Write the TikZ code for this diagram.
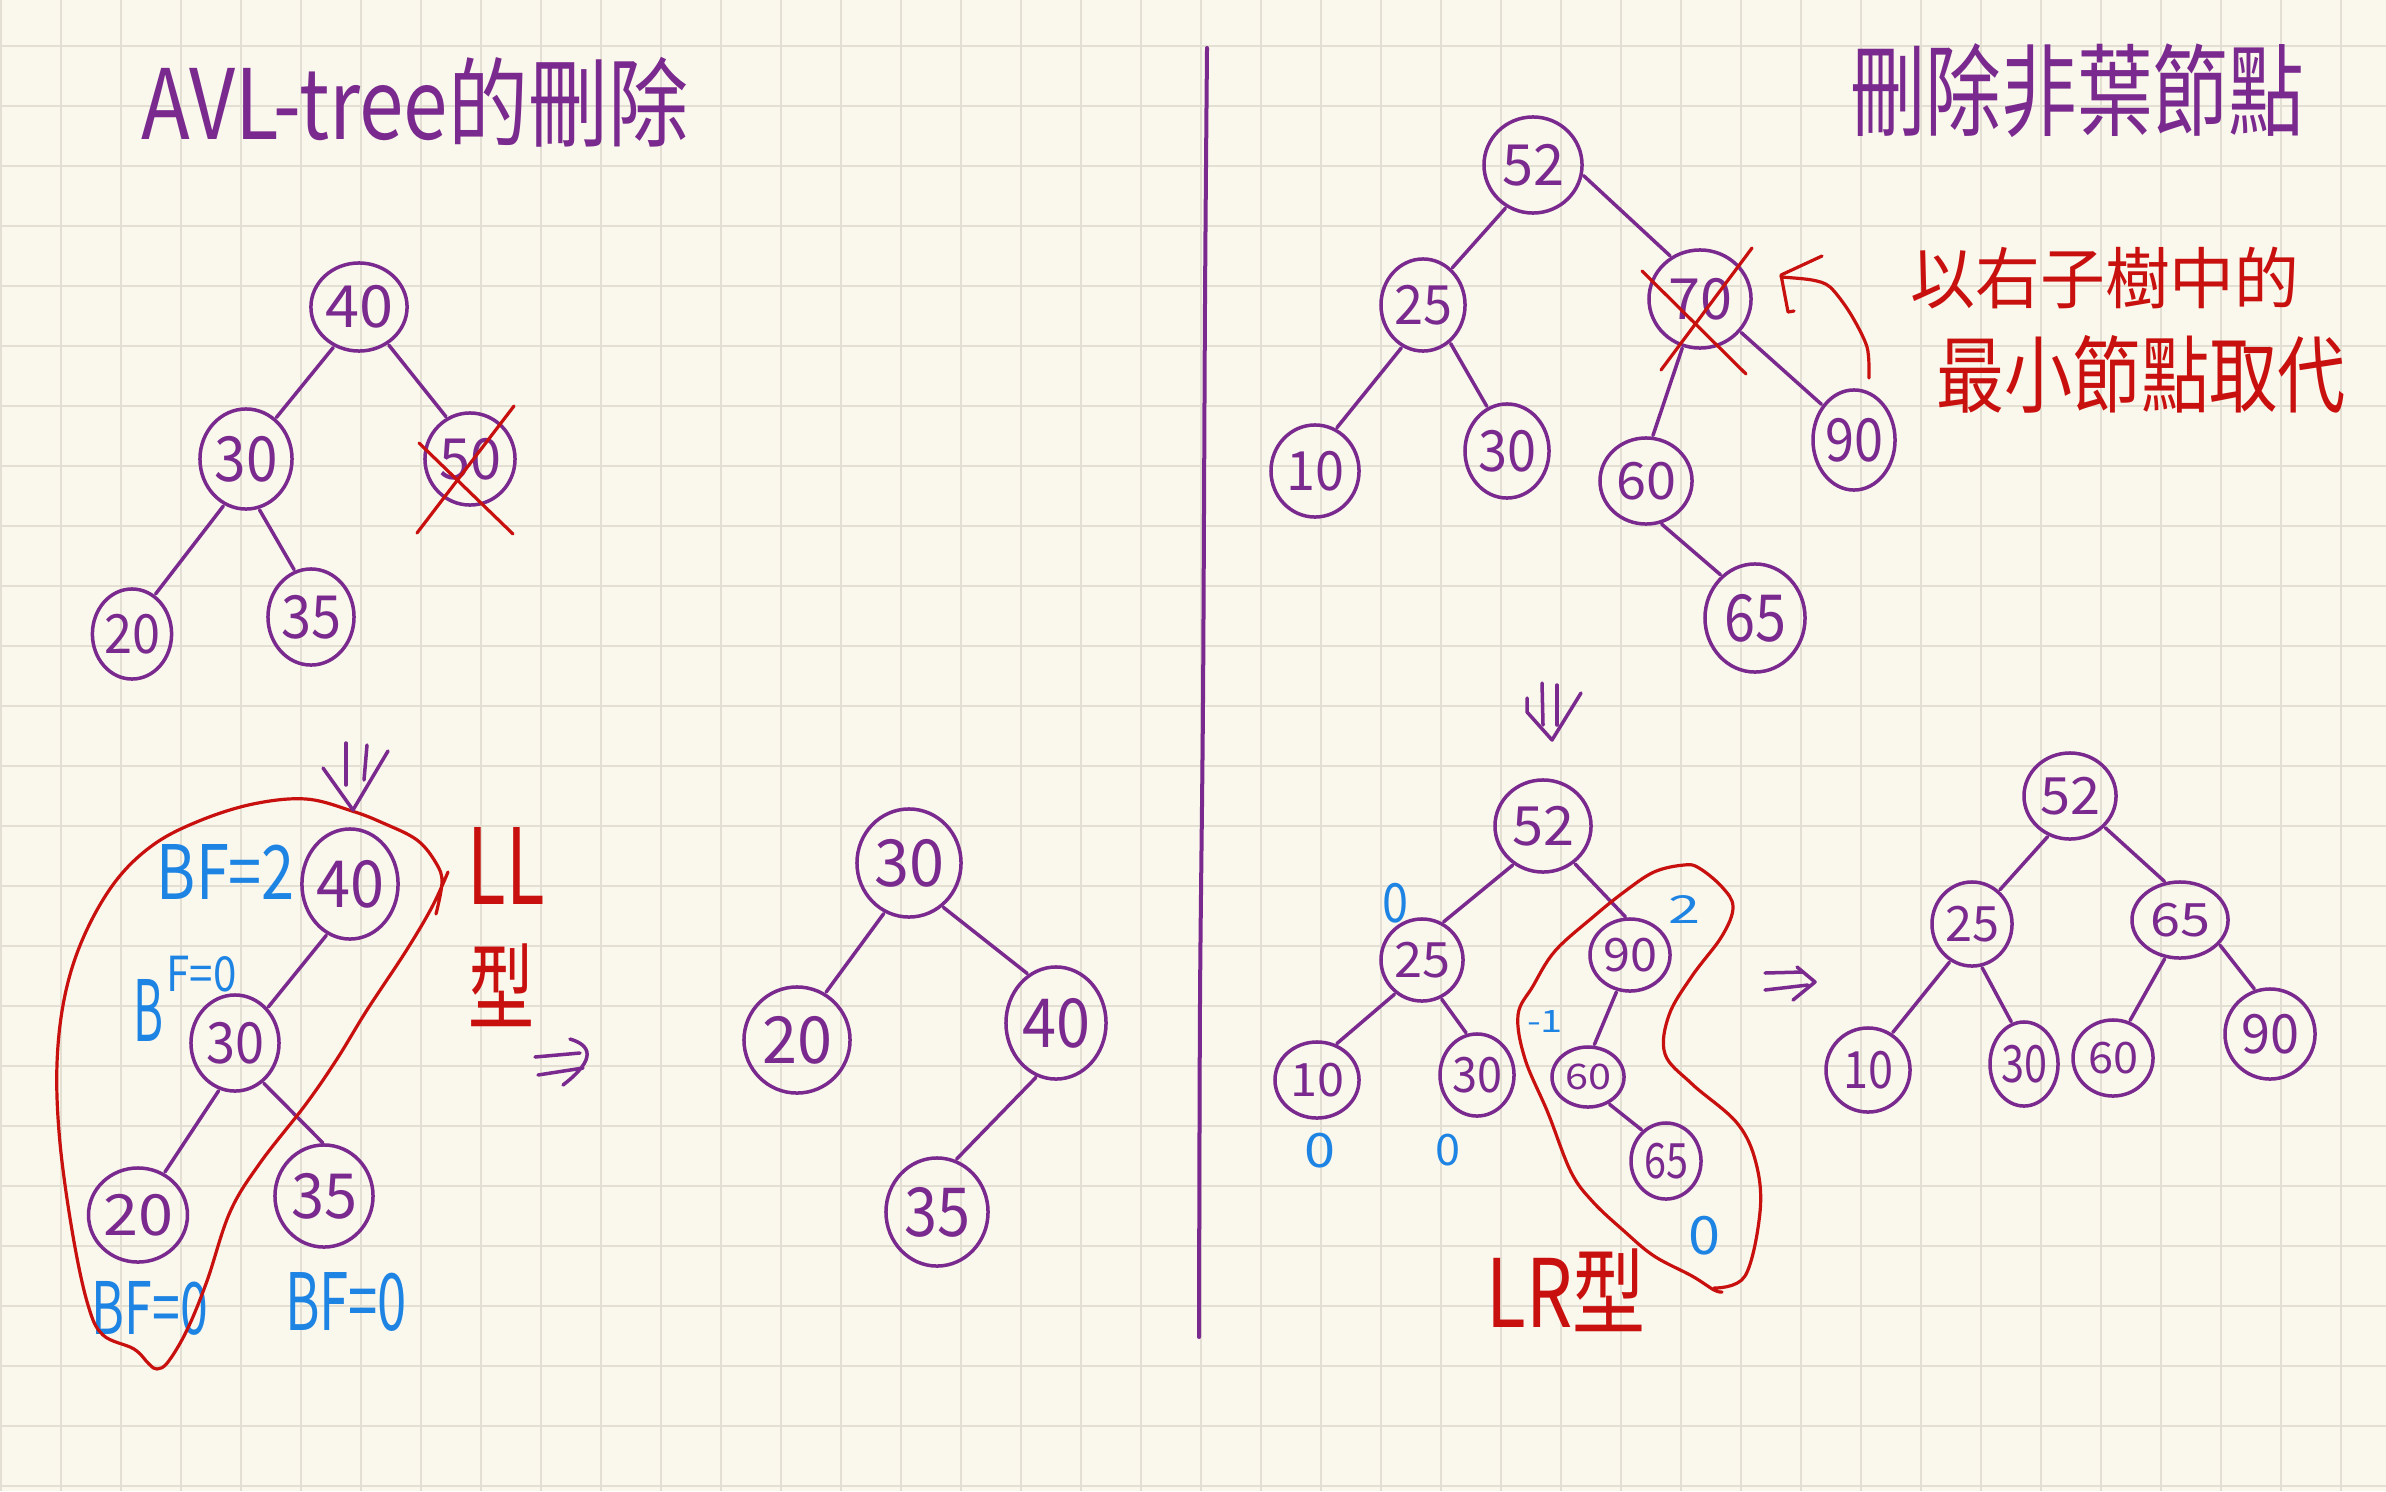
\documentclass[tikz,border=0pt]{standalone}
\usepackage{fontspec}
\usepackage{graphicx}
\usetikzlibrary{shapes.geometric}
\newfontfamily\cjk{Noto Sans CJK TC}
\definecolor{bg}{HTML}{FAF7EC}
\definecolor{gridc}{HTML}{E3DFD3}
\definecolor{purp}{HTML}{7A2A8E}
\definecolor{redc}{HTML}{C8100F}
\definecolor{bluec}{HTML}{1E84E4}
\newlength\upx
\setlength\upx{0.01cm}
\newcommand\fitT[3]{\resizebox*{#1\upx}{#2\upx}{#3}}
\begin{document}
\begin{tikzpicture}[x=0.01cm,y=-0.01cm,font=\cjk,
  gridl/.style={draw=gridc,line width=0.022cm},
  nd/.style 2 args={ellipse,draw=purp,line width=0.035cm,inner sep=0pt,outer sep=0pt,
    minimum width={#1*0.02cm},minimum height={#2*0.02cm},text=purp},
  edge/.style={draw=purp,line width=0.035cm,line cap=round,shorten <=0.03cm,shorten >=0.03cm},
  pen/.style={draw=purp,line width=0.035cm,line cap=round,line join=round},
  rpen/.style={draw=redc,line width=0.032cm,line cap=round,line join=round},
  ptxt/.style={text=purp,inner sep=0pt},
  rtxt/.style={text=redc,inner sep=0pt},
  btxt/.style={text=bluec,inner sep=0pt}]
\fill[bg] (0,0) rectangle (2386,1491);
\useasboundingbox (0,0) rectangle (2386,1491);
\foreach \i in {0,...,39} \draw[gridl] ({1+60*\i},0) -- ({1+60*\i},1491);
\foreach \j in {0,...,24} \draw[gridl] (0,{46+60*\j}) -- (2386,{46+60*\j});

% titles
\node[ptxt] (t1) at (415,102) {\fitT{547}{90}{AVL-tree的刪除}};
\node[ptxt] (t2) at (2077,91) {\fitT{454}{94}{刪除非葉節點}};
\node[rtxt] (r1) at (2105,278) {\fitT{389}{62}{以右子樹中的}};
\node[rtxt] (r2) at (2141,374) {\fitT{409}{78}{最小節點取代}};

% divider
\draw[pen,line width=0.04cm] plot[smooth] coordinates {(1207,48) (1205,300) (1203,700) (1200,1000) (1199,1337)};

% Tree A
\node[nd={41}{44}] (A40) at (359,307) {\fitT{68}{43}{40}};
\node[nd={46}{50}] (A30) at (246,459) {\fitT{63}{46}{30}};
\node[nd={45}{46}] (A50) at (470,459) {\fitT{62}{42}{50}};
\node[nd={39}{45}] (A20) at (132,634) {\fitT{56}{40}{20}};
\node[nd={43}{48}] (A35) at (311,617) {\fitT{60}{44}{35}};
\draw[edge] (A40.-122.5) -- (A30.54);
\draw[edge] (A40.-52.5) -- (A50.119);
\draw[edge] (A30.-115) -- (A20.60);
\draw[edge] (A30.-76) -- (A35.109);
\draw[rpen] (417,533) -- (514,406);
\draw[rpen] (419,443) -- (513,534);

% Tree B
\node[nd={48}{55}] (B40) at (350,884) {\fitT{68}{48}{40}};
\node[nd={44}{48}] (B30) at (235,1043) {\fitT{58}{42}{30}};
\node[nd={49}{47}] (B20) at (138,1215) {\fitT{70}{42}{20}};
\node[nd={49}{51}] (B35) at (324,1196) {\fitT{66}{46}{35}};
\draw[edge] (B40.-114) -- (B30.47);
\draw[edge] (B30.-108) -- (B20.58);
\draw[edge] (B30.-55) -- (B35.89);
\node[btxt] (bf1) at (226,872) {\fitT{138}{55}{BF=2}};
\node[btxt,anchor=south west] (bf2b) at (133,1042) {\fitT{30}{62}{B}};
\node[btxt,anchor=south west] (bf2f) at (166,993) {\fitT{70}{36}{F=0}};
\node[btxt] (bf3) at (150,1308) {\fitT{116}{54}{BF=0}};
\node[btxt] (bf4) at (346,1302) {\fitT{122}{59}{BF=0}};
\node[rtxt] (ll) at (506,866) {\fitT{77}{77}{LL}};
\node[rtxt] (llx) at (501,985) {\fitT{66}{83}{型}};
\draw[rpen] plot[smooth,tension=0.6] coordinates {(436,914) (442,882) (436,863) (417,840) (383,823) (352,811) (306,799) (253,804) (199,821) (153,845) (115,882) (84,936) (65,995) (57,1064) (60,1143) (73,1236) (88,1305) (103,1335) (134,1349) (149,1364) (157,1369) (168,1362) (187,1330) (207,1281) (230,1212) (260,1163) (306,1104) (337,1059) (367,1010) (406,951) (432,907) (448,872)};
% double down arrow 1
\draw[pen] (346,743) -- (346,785);
\draw[pen] (367,745) -- (364,780);
\draw[pen] (323,768) -- (353,810) -- (388,751);
% => 1
\draw[pen] (535,1057) -- (580,1053);
\draw[pen] (538,1075) -- (583,1068);
\draw[pen] (570,1039) .. controls (590,1045) and (598,1058) .. (563,1085);

% Tree C
\node[nd={52}{54}] (C30) at (909,863) {\fitT{70}{48}{30}};
\node[nd={53}{53}] (C20) at (797,1040) {\fitT{70}{48}{20}};
\node[nd={50}{56}] (C40) at (1056,1023) {\fitT{68}{50}{40}};
\node[nd={51}{54}] (C35) at (937,1212) {\fitT{66}{50}{35}};
\draw[edge] (C30.-116.6) -- (C20.59);
\draw[edge] (C30.-53.5) -- (C40.119.6);
\draw[edge] (C40.-109) -- (C35.71);

% Tree D
\node[nd={49}{48}] (D52) at (1533,165) {\fitT{62}{42}{52}};
\node[nd={42}{46}] (D25) at (1423,305) {\fitT{58}{40}{25}};
\node[nd={51}{49}] (D70) at (1700,299) {\fitT{64}{42}{70}};
\node[nd={44}{46}] (D10) at (1315,471) {\fitT{58}{40}{10}};
\node[nd={42}{47}] (D30) at (1507,451) {\fitT{58}{42}{30}};
\node[nd={46}{43}] (D60) at (1646,481) {\fitT{60}{38}{60}};
\node[nd={41}{50}] (D90) at (1854,440) {\fitT{58}{44}{90}};
\node[nd={50}{54}] (D65) at (1755,618) {\fitT{62}{48}{65}};
\draw[edge] (D52.-122.7) -- (D25.52.4);
\draw[edge] (D52.-10) -- (D70.124);
\draw[edge] (D25.-116) -- (D10.64);
\draw[edge] (D25.-54.5) -- (D30.114);
\draw[edge] (D70.-110) -- (D60.82);
\draw[edge] (D70.-39.6) -- (D90.132.8);
\draw[edge] (D60.-72.7) -- (D65.128);
\draw[rpen] (1642,271) -- (1746,374);
\draw[rpen] (1752,248) -- (1661,370);
\draw[rpen] plot[smooth] coordinates {(1869,378) (1867,347) (1850,313) (1830,287) (1812,280) (1781,277)};
\draw[rpen] (1822,256) -- (1781,275) -- (1788,312) -- (1794,311);
% double down arrow 2
\draw[pen] (1542,683) -- (1543,725);
\draw[pen] (1557,685) -- (1557,725);
\draw[pen] (1527,698) -- (1527,712) -- (1552,740) -- (1581,693);

% Tree E
\node[nd={48}{46}] (E52) at (1543,826) {\fitT{62}{40}{52}};
\node[nd={41}{41}] (E25) at (1422,960) {\fitT{56}{36}{25}};
\node[nd={40}{36}] (E90) at (1630,955) {\fitT{54}{34}{90}};
\node[nd={42}{38}] (E10) at (1317,1080) {\fitT{54}{34}{10}};
\node[nd={37}{41}] (E30) at (1477,1075) {\fitT{50}{36}{30}};
\node[nd={36}{30}] (E60) at (1588,1077) {\fitT{46}{26}{60}};
\node[nd={35}{38}] (E65) at (1666,1161) {\fitT{44}{36}{65}};
\draw[edge] (E52.-127) -- (E25.62);
\draw[edge] (E52.-50) -- (E90.94);
\draw[edge] (E25.-128.5) -- (E10.63.4);
\draw[edge] (E25.-64.6) -- (E30.103);
\draw[edge] (E90.-110) -- (E60.80.5);
\draw[edge] (E60.-53.5) -- (E65.127);
\node[btxt] (b1) at (1395,903) {\fitT{26}{40}{0}};
\node[btxt] (b2) at (1684,909) {\fitT{32}{28}{2}};
\node[btxt] (b3) at (1545,1021) {\fitT{36}{22}{-1}};
\node[btxt] (b4) at (1320,1151) {\fitT{31}{35}{0}};
\node[btxt] (b5) at (1448,1150) {\fitT{25}{32}{0}};
\node[btxt] (b6) at (1704,1236) {\fitT{32}{39}{0}};
\draw[rpen] plot[smooth,tension=0.6] coordinates {(1714,1288) (1745,1276) (1760,1212) (1756,1163) (1737,1123) (1692,1084) (1665,1054) (1669,1015) (1692,976) (1722,936) (1733,907) (1722,887) (1699,868) (1684,865) (1654,872) (1624,892) (1593,917) (1555,951) (1533,986) (1518,1015) (1525,1059) (1548,1113) (1571,1172) (1593,1202) (1624,1231) (1654,1256) (1692,1276) (1714,1290) (1722,1292)};
\node[rtxt] (lr) at (1566,1290) {\fitT{159}{83}{LR型}};
% => 2
\draw[pen] (1765,973) -- (1803,972);
\draw[pen] (1765,990) -- (1808,985);
\draw[pen] (1797,967) -- (1815,982) -- (1793,1000);

% Tree F
\node[nd={46}{43}] (F52) at (2070,796) {\fitT{60}{38}{52}};
\node[nd={40}{42}] (F25) at (1972,924) {\fitT{54}{36}{25}};
\node[nd={48}{38}] (F65) at (2180,920) {\fitT{60}{34}{65}};
\node[nd={42}{42}] (F10) at (1868,1070) {\fitT{50}{38}{10}};
\node[nd={34}{42}] (F30) at (2024,1064) {\fitT{46}{38}{30}};
\node[nd={40}{38}] (F60) at (2113,1058) {\fitT{50}{32}{60}};
\node[nd={45}{45}] (F90) at (2270,1034) {\fitT{58}{40}{90}};
\draw[edge] (F52.-118.7) -- (F25.51);
\draw[edge] (F52.-42.8) -- (F65.110);
\draw[edge] (F25.-120) -- (F10.57.5);
\draw[edge] (F25.-78) -- (F30.106.6);
\draw[edge] (F65.-111) -- (F60.66);
\draw[edge] (F65.-31) -- (F90.108);
\end{tikzpicture}
\end{document}
